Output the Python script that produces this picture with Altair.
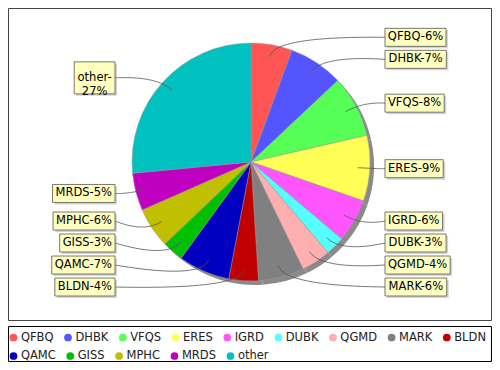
import math
import altair as alt
import pandas as pd

# ---------------- data ----------------
names = ["QFBQ", "DHBK", "VFQS", "ERES", "IGRD", "DUBK", "QGMD",
         "MARK", "BLDN", "QAMC", "GISS", "MPHC", "MRDS", "other"]
shares = [5.6, 7.4, 8.4, 8.9, 5.9, 2.6, 4.0, 6.2, 4.0, 7.0, 2.9, 5.5, 5.1, 26.5]
pct_text = [6, 7, 8, 9, 6, 3, 4, 6, 4, 7, 3, 6, 5, 27]
colors = ["#FF5555", "#5555FF", "#55FF55", "#FFFF55", "#FF55FF", "#55FFFF", "#FFAFAF",
          "#808080", "#C00000", "#0000C0", "#00C000", "#C0C000", "#C000C0", "#00C0C0"]
wrapped = ["other"]

# ---------------- layout ----------------
W, H = 484, 354
CX, CY, R = 243, 154, 119
SHADOW = 4
R_ELBOW, R_CTRL, R_PREF = 107, 128, 125
RIGHT_X, LEFT_X = 377, 107
FONT = "DejaVu Sans"
FS = 11.5
PAD_X = 3
LINE_H = 14
BOX_H1 = 18
GAP = 4
Y_TOP, Y_BOT = 10, 288
LEG_X0, LEG_Y0, LEG_ROW = 5.5, 329.5, 18.5
LEG_SYM_TO_TEXT, LEG_TEXT_TO_SYM = 7.4, 14.5
LEG_MAX_X = W - 6

CHAR_EM = {
    "A": .684, "B": .686, "C": .698, "D": .770, "E": .632, "F": .575, "G": .775,
    "H": .752, "I": .295, "J": .295, "K": .656, "L": .557, "M": .863, "N": .748,
    "O": .787, "P": .603, "Q": .787, "R": .695, "S": .635, "T": .611, "U": .732,
    "V": .684, "W": .989, "X": .685, "Y": .611, "Z": .685, "-": .361, "%": .950,
    " ": .318, "o": .612, "t": .392, "h": .634, "e": .615, "r": .411,
}
for d in "0123456789":
    CHAR_EM[d] = .636


def text_w(s):
    return sum(CHAR_EM.get(c, 0.62) for c in s) * FS


total = sum(shares)
rows = []
cum = 0.0
for i, (n, s, p) in enumerate(zip(names, shares, pct_text)):
    mid = (cum + s / 2) / total * 2 * math.pi
    cum += s
    label = f"{n}-\n{p}%" if n in wrapped else f"{n}-{p}%"
    lines = label.split("\n")
    w = max(text_w(l) for l in lines) + 2 * PAD_X
    h = BOX_H1 + LINE_H * (len(lines) - 1)
    side = "R" if math.sin(mid) >= 0 else "L"
    pref = CY - R_PREF * math.cos(mid)
    rows.append(dict(idx=i, name=n, share=s, label=label, mid=mid,
                     w=w, h=h, side=side, pref=pref))


def place(cluster):
    offs = [0.0]
    for a, b in zip(cluster, cluster[1:]):
        offs.append(offs[-1] + (a["h"] + b["h"]) / 2 + GAP)
    y0 = sum(r["pref"] for r in cluster) / len(cluster) - sum(offs) / len(offs)
    bot = y0 + offs[-1] + cluster[-1]["h"] / 2
    if bot > Y_BOT:
        y0 -= bot - Y_BOT
    top = y0 - cluster[0]["h"] / 2
    if top < Y_TOP:
        y0 += Y_TOP - top
    for r, o in zip(cluster, offs):
        r["y"] = y0 + o


for side in "RL":
    items = sorted([r for r in rows if r["side"] == side], key=lambda r: r["pref"])
    clusters = [[r] for r in items]
    for c in clusters:
        place(c)
    merged = True
    while merged:
        merged = False
        for k in range(len(clusters) - 1):
            a, b = clusters[k], clusters[k + 1]
            if a[-1]["y"] + a[-1]["h"] / 2 + GAP > b[0]["y"] - b[0]["h"] / 2 + 1e-9:
                clusters[k] = a + b
                del clusters[k + 1]
                place(clusters[k])
                merged = True
                break

line_pts = []
for r in rows:
    if r["side"] == "R":
        r["x0"], r["x1"], tx = RIGHT_X, RIGHT_X + r["w"], RIGHT_X
    else:
        r["x0"], r["x1"], tx = LEFT_X - r["w"], LEFT_X, LEFT_X
    r["xc"] = (r["x0"] + r["x1"]) / 2
    r["y0"] = r["y"] - r["h"] / 2
    r["y1"] = r["y"] + r["h"] / 2
    r["sx0"], r["sx1"] = r["x0"] + 2, r["x1"] + 2
    r["sy0"], r["sy1"] = r["y0"] + 2, r["y1"] + 2
    sn, cs = math.sin(r["mid"]), math.cos(r["mid"])
    ex, ey = CX + R_ELBOW * sn, CY - R_ELBOW * cs
    qx, qy = CX + R_CTRL * sn, CY - R_CTRL * cs
    ty = r["y"]
    for k in range(25):
        t = k / 24
        x = (1 - t) ** 2 * tx + 2 * (1 - t) * t * qx + t ** 2 * ex
        y = (1 - t) ** 2 * ty + 2 * (1 - t) * t * qy + t ** 2 * ey
        line_pts.append(dict(name=r["name"], k=k, x=x, y=y))

# flow-layout legend entries
leg = []
sx, row = LEG_X0, 0
for n in names:
    lw = text_w(n)
    if sx + LEG_SYM_TO_TEXT + lw > LEG_MAX_X:
        row += 1
        sx = LEG_X0
    leg.append(dict(name=n, sx=sx, tx=sx + LEG_SYM_TO_TEXT, ly=LEG_Y0 + row * LEG_ROW))
    sx = sx + LEG_SYM_TO_TEXT + lw + LEG_TEXT_TO_SYM

df = pd.DataFrame(rows)
lines_df = pd.DataFrame(line_pts)
leg_df = pd.DataFrame(leg)
one = alt.Data(values=[{"a": 1}])
color_scale = alt.Scale(domain=names, range=colors)

plot_frame = alt.Chart(one).mark_rect(fill="white", stroke="#444444", strokeWidth=1).encode(
    x=alt.value(0.5), x2=alt.value(W - 0.5), y=alt.value(0.5), y2=alt.value(312.5))
legend_frame = alt.Chart(one).mark_rect(fill="white", stroke="#000000", strokeWidth=1).encode(
    x=alt.value(0.5), x2=alt.value(W - 0.5), y=alt.value(318.5), y2=alt.value(H - 0.5))

theta = alt.Theta("share:Q", stack=True)
order = alt.Order("idx:Q")

shadow = alt.Chart(df).mark_arc(radius=R).encode(
    theta=theta, order=order,
    x=alt.value(CX + SHADOW), y=alt.value(CY + SHADOW),
    color=alt.value("#8a8a8a"))

pie = alt.Chart(df).mark_arc(radius=R, stroke="#9a9a9a", strokeWidth=0.5).encode(
    theta=theta, order=order,
    x=alt.value(CX), y=alt.value(CY),
    color=alt.Color("name:N", scale=color_scale, legend=None))

leaders = alt.Chart(lines_df).mark_line(stroke="#555555", strokeWidth=0.8).encode(
    x=alt.X("x:Q", scale=None), y=alt.Y("y:Q", scale=None),
    detail="name:N", order="k:Q")

box_shadow = alt.Chart(df).mark_rect(fill="#b0b0b0", opacity=0.55).encode(
    x=alt.X("sx0:Q", scale=None), x2="sx1:Q",
    y=alt.Y("sy0:Q", scale=None), y2="sy1:Q")

boxes = alt.Chart(df).mark_rect(fill="#FFFFC0", stroke="#555555", strokeWidth=0.8).encode(
    x=alt.X("x0:Q", scale=None), x2="x1:Q",
    y=alt.Y("y0:Q", scale=None), y2="y1:Q")

texts = alt.Chart(df).mark_text(font=FONT, fontSize=FS, align="center", baseline="middle",
                                lineBreak="\n", lineHeight=LINE_H, color="black").encode(
    x=alt.X("xc:Q", scale=None), y=alt.Y("y:Q", scale=None), text="label:N")

leg_sym = alt.Chart(leg_df).mark_point(filled=True, shape="circle", size=60, opacity=1).encode(
    x=alt.X("sx:Q", scale=None), y=alt.Y("ly:Q", scale=None),
    color=alt.Color("name:N", scale=color_scale, legend=None))

leg_txt = alt.Chart(leg_df).mark_text(font=FONT, fontSize=FS, align="left", baseline="middle",
                                      color="#222222").encode(
    x=alt.X("tx:Q", scale=None), y=alt.Y("ly:Q", scale=None), text="name:N")

chart = alt.layer(plot_frame, legend_frame, shadow, pie, leaders, box_shadow, boxes, texts,
                  leg_sym, leg_txt).properties(
    width=W, height=H, padding=0, autosize=alt.AutoSizeParams(type="none"), background="white"
).configure_view(stroke=None)

chart.save("out.html", embed_options={"renderer": "svg", "actions": False})
